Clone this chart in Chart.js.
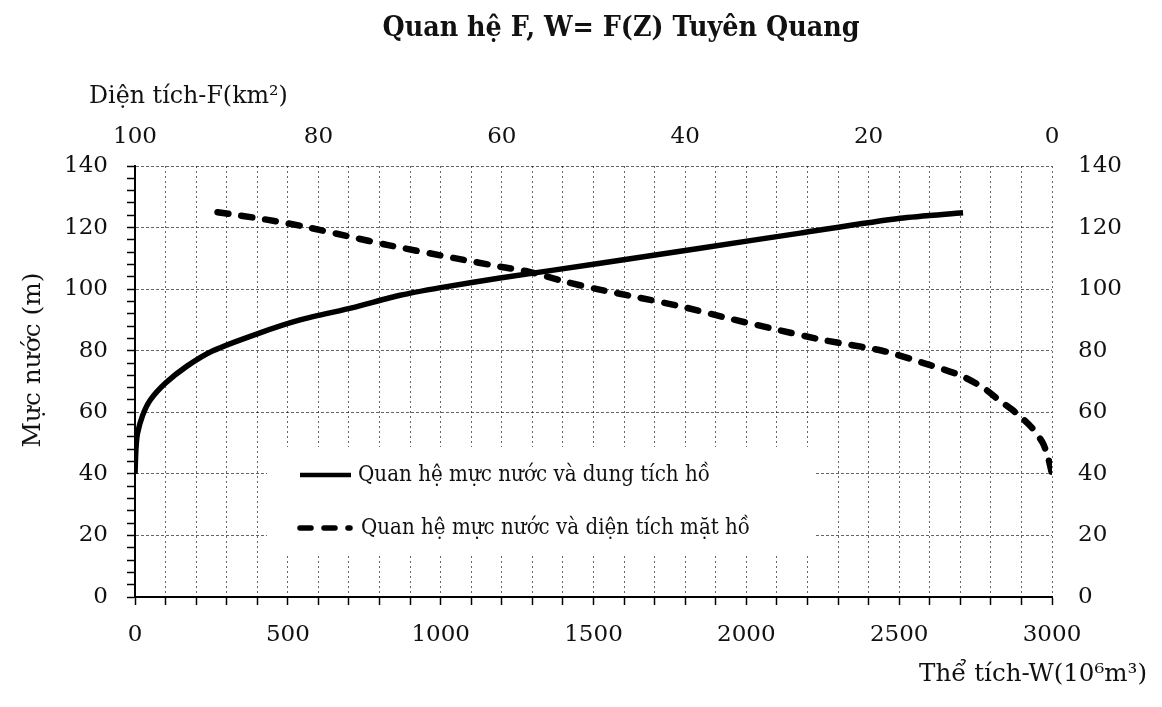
<!DOCTYPE html>
<html>
<head>
<meta charset="utf-8">
<script src="https://cdn.jsdelivr.net/npm/chart.js@4.4.0/dist/chart.umd.min.js"></script>
<style>
  html, body { margin: 0; padding: 0; background: #fff; }
  #wrap { width: 1162px; height: 707px; }
</style>
</head>
<body>
<div id="wrap"><canvas id="chart" width="1162" height="707"></canvas></div>
<script>
// Quan hệ mực nước - dung tích (W: 10^6 m3, Z: m)
const volumeW = [0, 3, 8, 25, 50, 100, 170, 255, 400, 540, 713, 867, 1000, 1194, 1522, 1849, 2176, 2503, 2709];
const levelW = [40, 48, 53, 59, 64, 69.5, 75, 80, 85.5, 90, 94, 98, 100.5, 103.6, 108.4, 113.3, 118.2, 123, 124.8];

// Quan hệ mực nước - diện tích mặt hồ (F: km2, Z: m)
const areaF = [91, 85.5, 81.5, 76.5, 72.4, 65, 60, 57, 52.9, 49.6, 45.3, 40.2, 35.4, 30.8, 25, 18.5, 14, 10, 7.5, 5.8, 4.0, 2.2, 1.0, 0.4, 0];
const levelF = [125, 122.5, 120.3, 117, 114.3, 110, 107.2, 105.6, 102.3, 100, 97.4, 94.2, 90.6, 87.4, 83.5, 80, 76, 72, 68, 64, 60, 55, 50, 45, 40];

// nhãn trục
const volumeLabels = [0, 500, 1000, 1500, 2000, 2500, 3000];
const areaLabels = [100, 80, 60, 40, 20, 0];
const levelLabels = [0, 20, 40, 60, 80, 100, 120, 140];

const chartTitle = "Quan hệ F, W= F(Z) Tuyên Quang";
const areaTitle = "Diện tích-F(km²)";
const volumeTitle = "Thể tích-W(10⁶m³)";
const levelTitle = "Mực nước (m)";
const legendLabels = ["Quan hệ mực nước và dung tích hồ", "Quan hệ mực nước và diện tích mặt hồ"];

const FONT = "'DejaVu Serif', serif";
const gridColor = "rgba(0,0,0,0.6)";

function toPoints(xs, ys) {
  return xs.map((x, i) => ({ x: x, y: ys[i] }));
}

// vẽ chữ: squeeze = nén ngang, không thì đổi cỡ chữ cho vừa bề rộng
function drawText(ctx, text, weight, size, x, y, width, align, squeeze) {
  ctx.save();
  ctx.font = weight + " " + size + "px " + FONT;
  const w = ctx.measureText(text).width;
  let sx = 1;
  if (squeeze) {
    sx = Math.min(1, width / w);
  } else {
    ctx.font = weight + " " + (size * width / w).toFixed(2) + "px " + FONT;
  }
  ctx.translate(x, y);
  ctx.scale(sx, 1);
  ctx.textAlign = align;
  ctx.fillText(text, 0, 0);
  ctx.restore();
}

const textPlugin = {
  id: "texts",
  afterDraw(chart) {
    const ctx = chart.ctx;
    ctx.save();
    ctx.fillStyle = "#111";
    ctx.textBaseline = "alphabetic";

    drawText(ctx, chartTitle, "bold", 27, 621, 36, 477, "center", true);
    drawText(ctx, areaTitle, "normal", 21, 89, 103, 199, "left", false);
    drawText(ctx, volumeTitle, "normal", 21, 1147, 681, 228, "right", false);

    ctx.save();
    ctx.translate(40, 360);
    ctx.rotate(-Math.PI / 2);
    drawText(ctx, levelTitle, "normal", 22, 0, 0, 175, "center", false);
    ctx.restore();

    // chú giải
    ctx.fillStyle = "#fff";
    ctx.fillRect(267, 447, 548, 108);
    const ds = chart.data.datasets;
    const rows = [475, 528];
    ds.forEach((d, i) => {
      ctx.save();
      ctx.strokeStyle = d.borderColor;
      ctx.lineWidth = d.borderWidth - 1;
      ctx.lineCap = d.borderCapStyle || "butt";
      ctx.setLineDash(d.borderDash || []);
      ctx.beginPath();
      ctx.moveTo(300, rows[i]);
      ctx.lineTo(i === 0 ? 351 : 350, rows[i]);
      ctx.stroke();
      ctx.restore();
    });
    ctx.fillStyle = "#111";
    ctx.textBaseline = "middle";
    drawText(ctx, legendLabels[0], "normal", 22, 358, rows[0], 352, "left", true);
    drawText(ctx, legendLabels[1], "normal", 22, 361, rows[1], 389, "left", true);
    ctx.restore();
  }
};

const tickFont = { family: FONT, size: 23 };

new Chart(document.getElementById("chart"), {
  type: "scatter",
  data: {
    datasets: [
      {
        label: legendLabels[0],
        data: toPoints(volumeW, levelW),
        xAxisID: "x",
        yAxisID: "y",
        showLine: true,
        borderColor: "#000",
        borderWidth: 5.5,
        pointRadius: 0,
        tension: 0.25
      },
      {
        label: legendLabels[1],
        data: toPoints(areaF, levelF),
        xAxisID: "x2",
        yAxisID: "y",
        showLine: true,
        borderColor: "#000",
        borderWidth: 6.5,
        borderDash: [11, 13],
        borderCapStyle: "round",
        pointRadius: 0,
        tension: 0.25
      }
    ]
  },
  options: {
    responsive: false,
    animation: false,
    devicePixelRatio: 1,
    layout: { padding: 0 },
    plugins: {
      legend: { display: false },
      title: { display: false },
      tooltip: { enabled: false }
    },
    scales: {
      x: {
        type: "linear",
        position: "bottom",
        min: 0,
        max: 3000,
        afterFit: (s) => { s.height = 110; },
        ticks: {
          stepSize: 100,
          autoSkip: false,
          maxRotation: 0,
          padding: 16,
          color: "#111",
          font: tickFont,
          callback: (v) => volumeLabels.includes(v) ? v : ""
        },
        grid: {
          color: gridColor,
          lineWidth: 1,
          tickColor: "#000",
          tickLength: 8,
          tickWidth: 1.5,
          tickBorderDash: []
        },
        border: { display: true, color: "#000", width: 2, dash: [2, 3] }
      },
      x2: {
        type: "linear",
        position: "top",
        min: 0,
        max: 100,
        reverse: true,
        afterFit: (s) => { s.height = 166; },
        ticks: {
          stepSize: 20,
          autoSkip: false,
          maxRotation: 0,
          padding: 15,
          color: "#111",
          font: tickFont,
          callback: (v) => areaLabels.includes(v) ? v : ""
        },
        grid: { drawOnChartArea: false, drawTicks: false },
        border: { display: false }
      },
      y: {
        type: "linear",
        position: "left",
        min: 0,
        max: 140,
        afterFit: (s) => { s.width = 135; },
        ticks: {
          stepSize: 4,
          autoSkip: false,
          padding: 19,
          color: "#111",
          font: tickFont,
          callback: (v) => levelLabels.includes(v) ? v : ""
        },
        grid: {
          color: (c) => (c.tick && c.tick.value % 20 === 0) ? gridColor : "transparent",
          lineWidth: 1,
          tickColor: "#000",
          tickLength: 8,
          tickWidth: 1.5,
          tickBorderDash: []
        },
        border: { display: true, color: "#000", width: 2, dash: [3, 2] }
      },
      y2: {
        type: "linear",
        position: "right",
        min: 0,
        max: 140,
        afterFit: (s) => { s.width = 110; },
        ticks: {
          stepSize: 20,
          autoSkip: false,
          padding: 26,
          color: "#111",
          font: tickFont,
          callback: (v) => levelLabels.includes(v) ? v : ""
        },
        grid: { drawOnChartArea: false, drawTicks: false },
        border: { display: false }
      }
    }
  },
  plugins: [textPlugin]
});
</script>
</body>
</html>
